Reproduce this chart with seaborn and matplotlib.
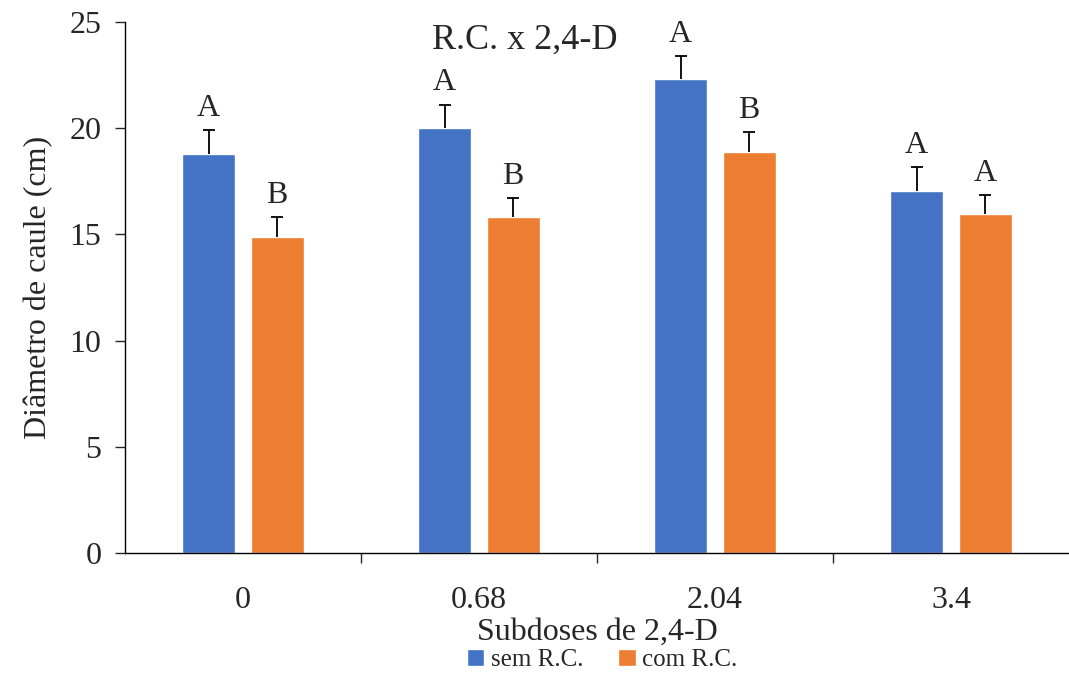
import numpy as np
import pandas as pd
import seaborn as sns
from matplotlib import pyplot as plt

# values
doses = ["0", "0.68", "2.04", "3.4"]
series = ["sem R.C.", "com R.C."]
sem_rc = [18.8, 20.0, 22.3, 17.05]
com_rc = [14.9, 15.8, 18.9, 15.95]
sem_err = [1.1, 1.1, 1.1, 1.1]
com_err = [0.9, 0.9, 0.9, 0.9]
sem_letters = ["A", "A", "A", "A"]
com_letters = ["B", "B", "B", "A"]

colors = ["#4472C4", "#ED7D31"]

df = pd.DataFrame({
    "dose": doses * 2,
    "trat": [series[0]] * 4 + [series[1]] * 4,
    "diam": sem_rc + com_rc,
})

sns.set_style("white")
plt.rcParams["font.family"] = ["Liberation Serif", "DejaVu Serif"]

fig = plt.figure(figsize=(10.69, 6.73), dpi=100)
ax = fig.add_axes([125 / 1069, 1 - 553 / 673, 944 / 1069, 531 / 673])

sns.barplot(data=df, x="dose", y="diam", hue="trat", order=doses, hue_order=series,
            palette=colors, width=0.58, gap=0.22, saturation=1, ax=ax, legend=True)

# error bars (upper side only) and letters
errs = sem_err + com_err
letters = sem_letters + com_letters
vals = sem_rc + com_rc
for p, e, l, v in zip(ax.patches[:8], errs, letters, vals):
    xc = p.get_x() + p.get_width() / 2
    ax.vlines(xc, v, v + e, color="black", lw=1.3)
    ax.hlines(v + e, xc - 0.026, xc + 0.026, color="black", lw=1.3)
    ax.text(xc, v + e + 0.35, l, ha="center", va="bottom", fontsize=23)

ax.set_xlim(-0.5, 3.5)
ax.set_ylim(0, 25)
ax.set_yticks([0, 5, 10, 15, 20, 25])
ax.tick_params(axis="y", labelsize=23, direction="out", length=7, width=1, left=True, pad=10)
ax.tick_params(axis="x", which="major", labelsize=23, length=0, pad=24)
ax.set_xticks([0.5, 1.5, 2.5], minor=True)
ax.tick_params(axis="x", which="minor", direction="out", length=7, width=1, bottom=True)

sns.despine(ax=ax)
for s in ["left", "bottom"]:
    ax.spines[s].set_linewidth(1)
    ax.spines[s].set_color("black")

ax.set_xlabel("Subdoses de 2,4-D", fontsize=23, labelpad=2)
ax.set_ylabel("Diâmetro de caule (cm)", fontsize=23, labelpad=12)
ax.text(0.424, 0.965, "R.C. x 2,4-D", transform=ax.transAxes, ha="center", va="center", fontsize=26)

handles, labels = ax.get_legend_handles_labels()
ax.get_legend().remove()
fig.legend(handles, labels, loc="center", bbox_to_anchor=(602 / 1069, 1 - 660 / 673), ncol=2,
           frameon=False, fontsize=18, handlelength=0.7, handleheight=0.7, handletextpad=0.25,
           columnspacing=1.4, borderaxespad=0)

fig.savefig("out.png", dpi=100)
